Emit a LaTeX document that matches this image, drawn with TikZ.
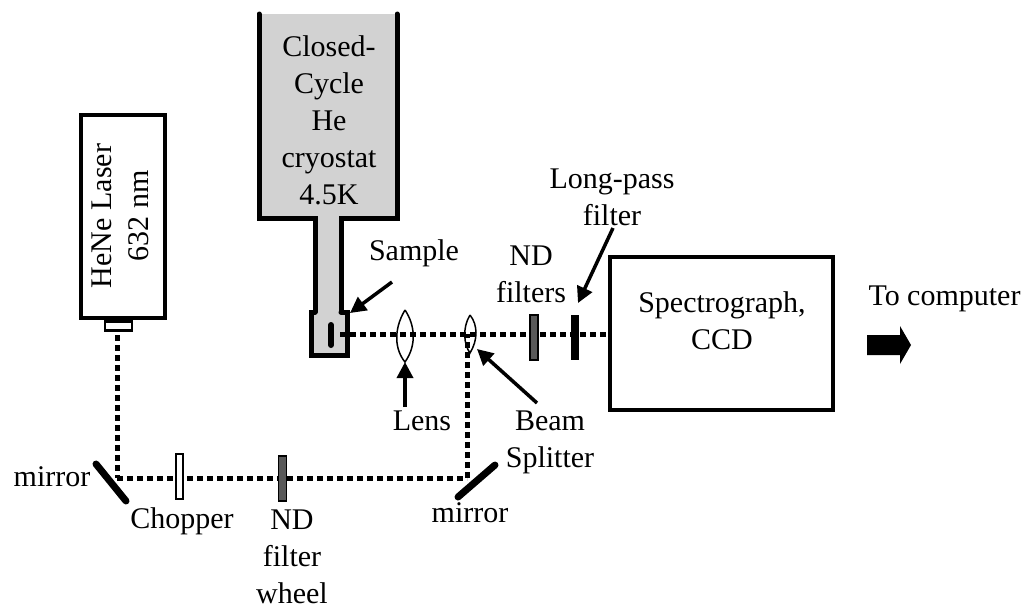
\documentclass[tikz,border=0pt]{standalone}
\usepackage{fontspec}
\setmainfont{Liberation Serif}
\usetikzlibrary{calc,arrows.meta}

\tikzset{
  wallline/.style={line width=5pt,line cap=round},
  beamline/.style={line width=5pt,dash pattern=on 6pt off 4pt},
  pointerline/.style={line width=3.5pt,-{Triangle[length=16pt,width=16pt]}},
  lbl/.style={font=\fontsize{30}{37}\selectfont,align=center,inner sep=0pt,anchor=base},
}

\begin{document}
\begin{tikzpicture}[x=1pt,y=-1pt]

\useasboundingbox (0,0) rectangle (1028,606);

\coordinate (cTopLPt) at (259,14);
\coordinate (cTopRPt) at (397,14);
\coordinate (cShoulderLPt) at (259,218);
\coordinate (cShoulderRPt) at (397,218);
\coordinate (cNeckLPt) at (315,218);
\coordinate (cNeckRPt) at (341,218);
\coordinate (cCupNeckLPt) at (315,312);
\coordinate (cCupNeckRPt) at (341,312);
\coordinate (cCupLPt) at (311,312);
\coordinate (cCupRPt) at (347,312);
\coordinate (cCupBLPt) at (311,355);
\coordinate (cCupBRPt) at (347,355);

\coordinate (cBeamStartPt) at (340,334);
\coordinate (cBeamEndPt) at (609,334);
\coordinate (cSplitPt) at (467,334);
\coordinate (cLaserPt) at (117,335);
\coordinate (cMirrorAPt) at (117,478);
\coordinate (cMirrorBPt) at (467,478);

% cryostat
\fill[gray!35] (cTopLPt) -- (cShoulderLPt) -- (cNeckLPt) -- (cCupNeckLPt) -- (cCupLPt) -- (cCupBLPt)
  -- (cCupBRPt) -- (cCupRPt) -- (cCupNeckRPt) -- (cNeckRPt) -- (cShoulderRPt) -- (cTopRPt) -- cycle;
\draw[wallline] (cTopLPt) -- (cShoulderLPt) -- (cNeckLPt) -- (cCupNeckLPt);
\draw[wallline] (cTopRPt) -- (cShoulderRPt) -- (cNeckRPt) -- (cCupNeckRPt);
\draw[wallline] (cCupNeckLPt) -- (cCupLPt) -- (cCupBLPt) -- (cCupBRPt) -- (cCupRPt) -- (cCupNeckRPt);
\draw[line width=6pt,line cap=round] (331,325) -- (331,345);

% beams
\draw[beamline] (cLaserPt) -- (cMirrorAPt);
\draw[beamline] (cMirrorAPt) -- (cMirrorBPt);
\draw[beamline] (cMirrorBPt) -- (cSplitPt);
\draw[beamline] (cBeamStartPt) -- (cBeamEndPt);

% laser
\node[draw,line width=4.5pt,minimum width=84pt,minimum height=203pt,inner sep=0pt] (nLaser) at (123,216.5) {};
\node[lbl,rotate=90] (nLaserT) at (148,216) {HeNe Laser\\632 nm};
\node[draw,line width=2.5pt,fill=white,minimum width=27pt,minimum height=9pt,inner sep=0pt,anchor=north] (nNub) at (118.5,320) {};

% optics
\draw[line width=1.5pt] (405,310) .. controls (393,330) and (395,350) .. (405,362)
  .. controls (417,345) and (415,325) .. (405,310);
\draw[line width=1.5pt] (470,315) .. controls (462,328) and (464,345) .. (470,353)
  .. controls (478,340) and (478,325) .. (470,315);
\draw[line width=7pt,line cap=round] (96,464) -- (126,501);
\draw[line width=7pt,line cap=round] (458,497) -- (495,465);
\node[draw,line width=1.5pt,fill=white,minimum width=7pt,minimum height=45pt,inner sep=0pt] (nChopper) at (179.5,476.5) {};
\node[draw,line width=1.5pt,fill=gray!70!black,minimum width=8pt,minimum height=45pt,inner sep=0pt] (nWheel) at (282.5,478.5) {};
\node[draw,line width=1.5pt,fill=gray!70!black,minimum width=8pt,minimum height=45pt,inner sep=0pt] (nFilterA) at (534,337.5) {};
\node[fill=black,minimum width=8pt,minimum height=45pt,inner sep=0pt] (nFilterB) at (574.5,337.5) {};

% spectrograph
\node[draw,line width=4pt,minimum width=223pt,minimum height=153pt,inner sep=0pt] (nSpec) at (721.5,333.5) {};
\node[lbl] (nSpecT) at (722,349) {Spectrograph,\\CCD};

% labels
\node[lbl] (nCryo) at (329,204) {Closed-\\Cycle\\He\\cryostat\\4.5K};
\node[lbl] (nSample) at (414,260) {Sample};
\node[lbl] (nNDF) at (531,302) {ND\\filters};
\node[lbl] (nLong) at (612,225) {Long-pass\\filter};
\node[lbl] (nLens) at (422,430) {Lens};
\node[lbl] (nBeam) at (550,467) {Beam\\Splitter};
\node[lbl] (nMirrorL) at (52,486) {mirror};
\node[lbl] (nMirrorR) at (470,522) {mirror};
\node[lbl] (nChop) at (182,528) {Chopper};
\node[lbl] (nWheelT) at (292,603) {ND\\filter\\wheel};
\node[lbl] (nOut) at (944.5,305) {To computer};

% pointers
\coordinate (cSamplePt) at (392,282);
\coordinate (cLensPt) at (405,407);
\coordinate (cBeamPt) at (537,403);
\coordinate (cLongPt) at (613,228);
\draw[pointerline] (cSamplePt) -- (350,313);
\draw[pointerline] (cLensPt) -- (405,362);
\draw[pointerline] (cBeamPt) -- (477,349);
\draw[pointerline] (cLongPt) -- (578,303);

% output arrow
\fill (867,335) -- (900,335) -- (900,326) -- (911,345) -- (900,364) -- (900,355) -- (867,355) -- cycle;

\end{tikzpicture}
\end{document}
